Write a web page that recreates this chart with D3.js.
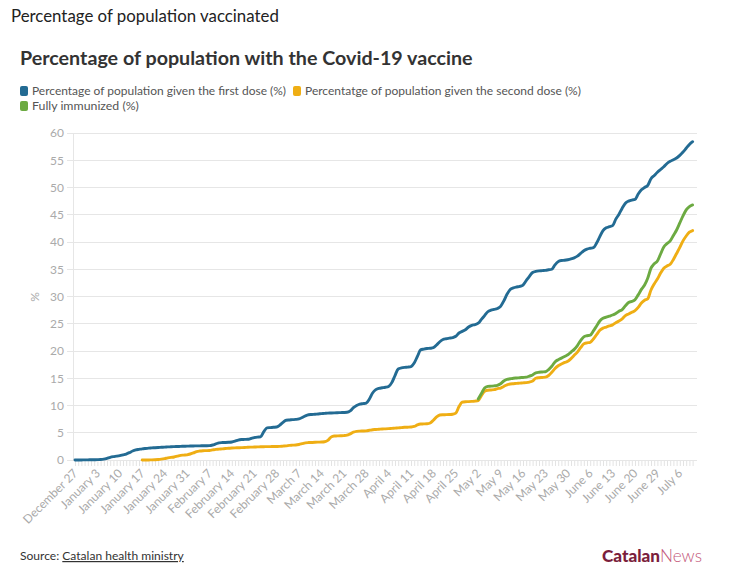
<!DOCTYPE html>
<html><head><meta charset="utf-8">
<script src="https://cdn.jsdelivr.net/npm/d3@7"></script>
<style>
body{margin:0;background:#fff;}
svg{display:block;font-family:Lato,"Noto Sans",sans-serif;}
</style>
</head><body>
<svg id="chart" width="748" height="584"></svg>
<script>
const seriesNames = ["Percentage of population given the first dose (%)", "Percentatge of population given the second dose (%)", "Fully immunized (%)"];
const seriesColors = ["#236b93", "#efae14", "#6caa42"];
const tickLabels = ["December 27","January 3","January 10","January 17","January 24","January 31","February 7","February 14","February 21","February 28","March 7","March 14","March 21","March 28","April 4","April 11","April 18","April 25","May 2","May 9","May 16","May 23","May 30","June 6","June 13","June 20","June 29","July 6"];
const yTicks = [0,5,10,15,20,25,30,35,40,45,50,55,60];
const missingDates = ["June 26","June 27"];
const secondDoseStart = "January 17";
const fullyStart = "May 2";

const firstDose = [
0.00,0.00,0.01,0.02,0.03,0.04,0.05,
0.06,0.08,0.15,0.30,0.50,0.62,0.70,
0.80,0.95,1.10,1.35,1.65,1.85,1.95,
2.05,2.12,2.18,2.22,2.26,2.30,2.33,
2.36,2.40,2.43,2.46,2.48,2.50,2.52,
2.54,2.56,2.58,2.59,2.60,2.61,2.62,
2.64,2.75,2.95,3.15,3.20,3.22,3.25,
3.30,3.45,3.65,3.75,3.78,3.80,3.95,
4.10,4.20,4.25,5.20,5.90,5.95,6.00,
6.05,6.40,6.90,7.30,7.35,7.40,7.45,
7.55,7.80,8.10,8.30,8.35,8.40,8.45,
8.50,8.55,8.60,8.62,8.65,8.68,8.70,
8.72,8.75,9.00,9.60,10.00,10.25,10.35,
10.45,11.20,12.30,12.90,13.15,13.25,13.35,
13.50,14.20,15.50,16.70,16.90,17.00,17.05,
17.15,17.80,19.00,20.20,20.35,20.45,20.50,
20.60,21.10,21.70,22.10,22.25,22.35,22.45,
22.70,23.30,23.60,23.90,24.40,24.70,24.85,
25.10,25.80,26.50,27.20,27.50,27.65,27.80,
28.20,29.20,30.40,31.30,31.60,31.75,31.85,
32.10,32.90,33.70,34.40,34.60,34.70,34.75,
34.80,34.90,35.00,35.80,36.40,36.60,36.65,
36.75,36.90,37.10,37.40,37.90,38.40,38.70,
38.85,38.95,39.80,41.00,42.10,42.60,42.80,
43.00,44.20,45.10,46.20,47.10,47.50,47.70,
47.80,48.80,49.60,50.00,50.40,51.60,52.20,
52.80,53.30,53.80,54.40,54.80,55.10,55.40,
55.90,56.50,57.20,57.90,58.40];

const secondDose = [
0.00,0.00,0.01,0.02,0.04,0.08,0.15,
0.25,0.38,0.48,0.55,0.70,0.85,0.90,
0.95,1.10,1.30,1.55,1.65,1.70,1.72,
1.75,1.85,1.95,2.00,2.05,2.10,2.15,
2.20,2.23,2.25,2.27,2.30,2.33,2.36,
2.38,2.40,2.42,2.44,2.45,2.46,2.47,
2.48,2.50,2.55,2.60,2.68,2.72,2.75,
2.85,3.00,3.15,3.20,3.22,3.25,3.28,
3.30,3.35,3.60,4.20,4.40,4.42,4.45,
4.48,4.55,4.80,5.10,5.25,5.30,5.32,
5.35,5.45,5.55,5.60,5.65,5.70,5.72,
5.75,5.80,5.85,5.90,5.95,6.00,6.02,
6.05,6.15,6.45,6.60,6.62,6.65,6.80,
7.30,7.90,8.25,8.30,8.32,8.35,8.40,
8.60,9.80,10.60,10.70,10.72,10.75,10.80,
10.90,11.80,12.60,12.80,12.85,12.90,13.10,
13.20,13.50,13.80,13.95,14.00,14.05,14.10,
14.15,14.20,14.30,14.50,15.00,15.10,15.15,
15.20,15.50,16.10,16.80,17.30,17.60,17.90,
18.10,18.60,19.20,19.80,20.60,21.30,21.50,
21.60,22.20,23.00,23.80,24.20,24.40,24.60,
24.80,25.20,25.50,25.90,26.50,26.80,27.10,
27.40,28.00,28.80,29.30,29.60,31.20,32.30,
33.20,34.30,35.20,35.60,35.90,36.80,37.90,
39.00,40.20,41.10,41.80,42.10];

const fullyImmunized = [
11.20,12.20,13.20,13.50,13.55,13.60,13.70,
14.00,14.50,14.80,14.90,15.00,15.05,15.10,
15.15,15.20,15.40,15.60,16.00,16.10,16.15,
16.20,16.60,17.20,18.00,18.40,18.70,19.00,
19.30,19.80,20.30,21.00,21.90,22.60,22.80,
22.90,23.70,24.60,25.50,26.00,26.20,26.40,
26.60,26.90,27.30,27.60,28.30,28.90,29.10,
29.40,30.30,31.30,32.10,33.40,35.20,36.00,
36.50,37.80,39.10,39.70,40.20,41.20,42.20,
43.50,44.80,45.90,46.50,46.80];

// categories: daily dates (two missing days)
const fmt = d3.timeFormat("%B %-d");
const categories = d3.timeDay.range(new Date(2020,11,27), new Date(2021,6,11)).map(fmt).filter(d => !missingDates.includes(d));

const svg = d3.select("#chart");

function fit(sel, w) {
  const n = sel.node();
  const len = n.getComputedTextLength();
  const fs = parseFloat(sel.attr("font-size"));
  sel.attr("font-size", (fs * w / len).toFixed(2));
}

// header
fit(svg.append("text").attr("x", 11).attr("y", 22).attr("font-size", 16).attr("fill", "#222")
  .text("Percentage of population vaccinated"), 268);

fit(svg.append("text").attr("x", 20).attr("y", 65).attr("font-size", 19).attr("font-weight", 700).attr("fill", "#333")
  .text("Percentage of population with the Covid-19 vaccine"), 453);

// legend
const legendItems = [
  {x: 20, y: 91, w: 266, i: 0},
  {x: 293, y: 91, w: 288, i: 1},
  {x: 20, y: 106, w: 119, i: 2}
];
legendItems.forEach(it => {
  svg.append("rect").attr("x", it.x).attr("y", it.y - 5).attr("width", 8).attr("height", 10)
    .attr("rx", 2).attr("fill", seriesColors[it.i]);
  fit(svg.append("text").attr("x", it.x + 12).attr("y", it.y + 4).attr("font-size", 12).attr("fill", "#555")
    .text(seriesNames[it.i]), it.w - 12);
});

// scales
const x = d3.scalePoint().domain(categories).range([75, 692.6]);
const y = d3.scaleLinear().domain([0, 60]).range([460, 133]);

// gridlines
svg.append("g").selectAll("line").data(yTicks).join("line")
  .attr("x1", 67).attr("x2", 697).attr("y1", d => y(d)).attr("y2", d => y(d))
  .attr("stroke", "#e6e6e6").attr("stroke-width", 1).attr("shape-rendering", "crispEdges");
svg.append("line").attr("x1", 73).attr("x2", 73).attr("y1", 133).attr("y2", 460)
  .attr("stroke", "#e6e6e6").attr("shape-rendering", "crispEdges");

// y labels
const yAxis = svg.append("g").attr("transform", "translate(73,0)")
  .call(d3.axisLeft(y).tickValues(yTicks).tickSize(0).tickPadding(9));
yAxis.select(".domain").remove();
yAxis.selectAll("text").attr("fill", "#aaa").attr("font-size", 12).attr("font-family", "Lato, sans-serif");

svg.append("text").attr("transform", "translate(39,297) rotate(-90)").attr("text-anchor", "middle")
  .attr("font-size", 12).attr("fill", "#aaa").text("%");

// x axis
const xAxis = svg.append("g").attr("transform", "translate(0,461)")
  .call(d3.axisBottom(x).tickSize(5).tickFormat(d => tickLabels.includes(d) ? d : ""));
xAxis.select(".domain").remove();
xAxis.selectAll(".tick line").attr("stroke", "#e3e3e3");
xAxis.selectAll("text").attr("fill", "#aaa").attr("font-size", 12).attr("font-family", "Lato, sans-serif")
  .attr("text-anchor", "end").attr("dy", null).attr("y", 0)
  .attr("transform", "translate(3,13) rotate(-45)");

// lines
const line = d3.line().x(d => x(d.c)).y(d => y(d.v)).curve(d3.curveMonotoneX);
function toPts(vals, start) {
  const s = categories.indexOf(start);
  return vals.map((v, k) => ({c: categories[s + k], v}));
}
const series = [
  toPts(firstDose, categories[0]),
  toPts(secondDose, secondDoseStart),
  toPts(fullyImmunized, fullyStart)
];
series.forEach((pts, i) => {
  svg.append("path").datum(pts).attr("d", line).attr("fill", "none")
    .attr("stroke", seriesColors[i]).attr("stroke-width", 2.9)
    .attr("stroke-linejoin", "round").attr("stroke-linecap", "round");
});

// source
const src = svg.append("text").attr("x", 20).attr("y", 560).attr("font-size", 12).attr("fill", "#333");
src.append("tspan").text("Source: ");
src.append("tspan").attr("text-decoration", "underline").text("Catalan health ministry");
fit(src, 164);

// logo
const logo = svg.append("text").attr("x", 602).attr("y", 562).attr("font-size", 19);
logo.append("tspan").attr("font-weight", 900).attr("fill", "#7b1e3c").text("Catalan");
logo.append("tspan").attr("font-weight", 300).attr("fill", "#c4587a").text("News");
fit(logo, 100);
</script>
</body></html>
